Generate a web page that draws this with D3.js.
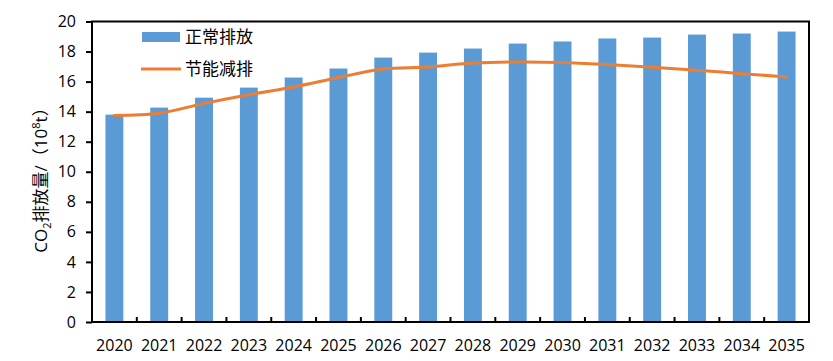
<!DOCTYPE html>
<html>
<head>
<meta charset="utf-8">
<script src="https://cdn.jsdelivr.net/npm/d3@7"></script>
<style>
  body { margin: 0; background: #fff; }
  text { font-family: "Open Sans", "Noto Sans CJK SC", sans-serif; fill: #000; }
</style>
</head>
<body>
<script>
// data
var years = ["2020","2021","2022","2023","2024","2025","2026","2027",
             "2028","2029","2030","2031","2032","2033","2034","2035"];
var normal = [13.8, 14.27, 14.93, 15.6, 16.27, 16.87, 17.6, 17.93,
              18.2, 18.53, 18.67, 18.87, 18.93, 19.13, 19.2, 19.33];
var saving = [13.75, 13.89, 14.55, 15.13, 15.64, 16.27, 16.84, 16.97,
              17.24, 17.31, 17.27, 17.13, 16.95, 16.75, 16.53, 16.31];
var yTicks = [0, 2, 4, 6, 8, 10, 12, 14, 16, 18, 20];
var seriesNames = ["正常排放", "节能减排"];

var w = 833,
    h = 361;
var margin = {top: 21.5, right: 24, bottom: 39, left: 92};
var blue = "#5B9BD5",
    orange = "#ED7D31";

var svg = d3.select("body").append("svg")
    .attr("width", w)
    .attr("height", h);

var x = d3.scaleBand()
    .domain(years)
    .range([margin.left, w - margin.right])
    .paddingInner(0.6)
    .paddingOuter(0.3);

var band = d3.scaleBand().domain(years).range([margin.left, w - margin.right]);

var y = d3.scaleLinear()
    .domain([0, 20])
    .range([h - margin.bottom, margin.top]);

// bars
svg.append("g")
  .selectAll("rect")
  .data(years)
  .enter().append("rect")
    .attr("x", (d) => x(d))
    .attr("width", x.bandwidth())
    .attr("y", (d, i) => y(normal[i]))
    .attr("height", (d, i) => y(0) - y(normal[i]))
    .attr("fill", blue);

// smoothed line
var line = d3.line()
    .x((d, i) => band(years[i]) + band.bandwidth() / 2)
    .y((d) => y(d))
    .curve(d3.curveCatmullRom.alpha(0.5));

svg.append("path")
    .datum(saving)
    .attr("d", line)
    .attr("fill", "none")
    .attr("stroke", orange)
    .attr("stroke-width", 3)
    .attr("stroke-linecap", "round");

// frame
svg.append("rect")
    .attr("x", margin.left)
    .attr("y", margin.top)
    .attr("width", w - margin.right - margin.left)
    .attr("height", y(0) - margin.top)
    .attr("fill", "none")
    .attr("stroke", "#000")
    .attr("stroke-width", 2);

// y axis
var yAxis = svg.append("g")
    .attr("transform", "translate(" + margin.left + ",0)")
    .call(d3.axisLeft(y).tickValues(yTicks).tickSize(6).tickPadding(10));
yAxis.select(".domain").remove();
yAxis.selectAll("line").attr("stroke", "#000").attr("stroke-width", 2);
yAxis.selectAll("text").style("font-size", "16px").style("font-family", "Open Sans");

// x axis, ticks pointing inward at category boundaries
var xAxis = svg.append("g")
    .attr("transform", "translate(0," + y(0) + ")")
    .call(d3.axisBottom(band).tickSize(0).tickPadding(18));
xAxis.select(".domain").remove();
xAxis.selectAll("text").style("font-size", "16px").style("font-family", "Open Sans");

svg.append("g")
  .selectAll("line")
  .data(years.slice(1))
  .enter().append("line")
    .attr("x1", (d) => band(d))
    .attr("x2", (d) => band(d))
    .attr("y1", y(0))
    .attr("y2", y(0) - 5)
    .attr("stroke", "#000")
    .attr("stroke-width", 2);

// y label
var yl = svg.append("text")
    .attr("transform", "translate(47,176) rotate(-90)")
    .attr("text-anchor", "middle")
    .style("font-size", "17px");
yl.append("tspan").text("CO");
yl.append("tspan").text("2").attr("dy", 4).style("font-size", "11px");
yl.append("tspan").text("排放量/（10").attr("dy", -4);
yl.append("tspan").text("8").attr("dy", -7).style("font-size", "11px");
yl.append("tspan").text("t）").attr("dy", 7);

// legend
var legend = svg.append("g");
legend.append("rect")
    .attr("x", 142).attr("y", 32)
    .attr("width", 38).attr("height", 10)
    .attr("fill", blue);
legend.append("line")
    .attr("x1", 141).attr("x2", 181)
    .attr("y1", 69).attr("y2", 69)
    .attr("stroke", orange)
    .attr("stroke-width", 3);
legend.selectAll("text")
  .data(seriesNames)
  .enter().append("text")
    .attr("x", 185)
    .attr("y", (d, i) => 37 + i * 32)
    .attr("dy", "0.35em")
    .style("font-size", "17px")
    .style("font-family", "Noto Sans CJK SC")
    .text((d) => d);
</script>
</body>
</html>
